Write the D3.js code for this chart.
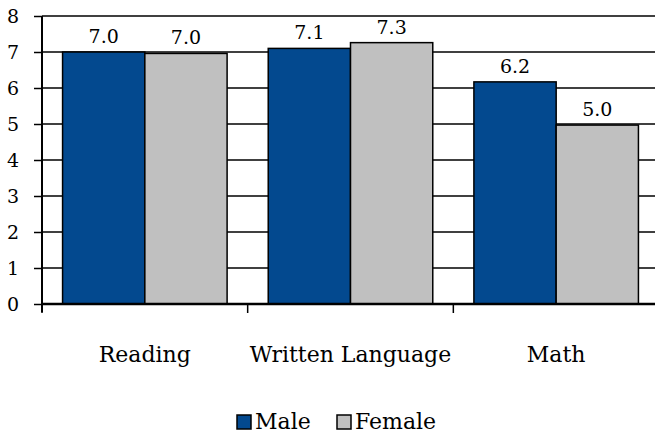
<!DOCTYPE html>
<html><head><meta charset="utf-8">
<script src="https://cdn.jsdelivr.net/npm/d3@7"></script>
<style>body{margin:0;background:#fff}svg{display:block}svg text{font-family:"DejaVu Serif",serif;fill:#000}</style>
</head><body>
<script>
const categories = ["Reading", "Written Language", "Math"];
const seriesNames = ["Male", "Female"];
const maleValues = [7.0, 7.10, 6.17];
const femaleValues = [6.96, 7.26, 4.97];
const yTicks = [0, 1, 2, 3, 4, 5, 6, 7, 8];
const colors = ["#03498F", "#C0C0C0"];

const W = 655, H = 435;
const FONT = "DejaVu Serif";
const svg = d3.select("body").append("svg").attr("width", W).attr("height", H);
const x0 = d3.scaleBand().domain(categories).range([42, 659]).paddingInner(0.2).paddingOuter(0.1);
const x1 = d3.scaleBand().domain(seriesNames).range([0, x0.bandwidth()]);
const y = d3.scaleLinear().domain([0, 8]).range([304, 16]);
const step = x0.step();

// gridlines
svg.append("g").selectAll("line").data(yTicks.filter(d => d > 0)).join("line")
  .attr("x1", 42).attr("x2", W).attr("y1", d => y(d)).attr("y2", d => y(d))
  .attr("stroke", "#000").attr("stroke-width", 1.5);

const data = categories.map((c, i) => ({c, vals: [maleValues[i], femaleValues[i]]}));
const g = svg.append("g").selectAll("g").data(data).join("g")
  .attr("transform", d => `translate(${x0(d.c)},0)`);
g.selectAll("rect").data(d => d.vals.map((v, j) => ({v, s: seriesNames[j], j}))).join("rect")
  .attr("x", d => x1(d.s)).attr("width", x1.bandwidth())
  .attr("y", d => y(d.v)).attr("height", d => y(0) - y(d.v))
  .attr("fill", d => colors[d.j]).attr("stroke", "#000").attr("stroke-width", 1.5);
g.selectAll("text").data(d => d.vals.map((v, j) => ({v, s: seriesNames[j]}))).join("text")
  .attr("x", d => x1(d.s) + x1.bandwidth() / 2).attr("y", d => y(d.v) - 9)
  .attr("text-anchor", "middle").attr("font-family", FONT).attr("font-size", 19).text(d => d.v.toFixed(1));

// y axis
const yAxis = svg.append("g").attr("transform", "translate(42,0)")
  .call(d3.axisLeft(y).tickValues(yTicks).tickSize(8).tickPadding(15).tickFormat(d3.format("d")));
yAxis.attr("font-family", FONT).attr("font-size", 19);
yAxis.select(".domain").attr("stroke", "#000").attr("stroke-width", 2).attr("d", `M0,${y(8)}V312`);
yAxis.selectAll(".tick line").attr("stroke", "#000").attr("stroke-width", 1.5);
yAxis.selectAll("text").attr("fill", "#000").attr("dy", "0.36em");

// x axis
svg.append("line").attr("x1", 42).attr("x2", W).attr("y1", y(0)).attr("y2", y(0))
  .attr("stroke", "#000").attr("stroke-width", 2.5);
const bounds = [42, ...categories.slice(1).map(c => x0(c) - step * x0.paddingInner() / 2)];
svg.append("g").selectAll("line").data(bounds).join("line")
  .attr("x1", d => d).attr("x2", d => d).attr("y1", y(0)).attr("y2", y(0) + 9)
  .attr("stroke", "#000").attr("stroke-width", 1.5);
svg.append("g").selectAll("text").data(categories).join("text")
  .attr("x", d => x0(d) + x0.bandwidth() / 2).attr("y", 362)
  .attr("text-anchor", "middle").attr("font-family", FONT).attr("font-size", 22).text(d => d);

// legend
const leg = svg.append("g");
const legX = [237, 337];
seriesNames.forEach((s, i) => {
  leg.append("rect").attr("x", legX[i]).attr("y", 415).attr("width", 14).attr("height", 14)
    .attr("fill", colors[i]).attr("stroke", "#000").attr("stroke-width", 1.5);
  leg.append("text").attr("x", legX[i] + 18).attr("y", 429).attr("font-family", FONT).attr("font-size", 22).text(s);
});
</script>
</body></html>
